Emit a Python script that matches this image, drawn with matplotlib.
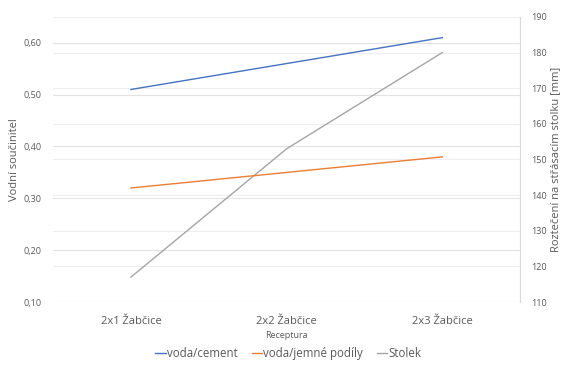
import matplotlib
matplotlib.use("Agg")
import matplotlib.pyplot as plt
from matplotlib.ticker import FuncFormatter

# data
kategorie = ["2x1 Žabčice", "2x2 Žabčice", "2x3 Žabčice"]
voda_cement = [0.51, 0.56, 0.61]
voda_jemne = [0.32, 0.35, 0.38]
stolek = [117, 153, 180]
leve_ticky = [0.1, 0.2, 0.3, 0.4, 0.5, 0.6]
prave_ticky = [110, 120, 130, 140, 150, 160, 170, 180, 190]

plt.rcParams['font.family'] = ['Open Sans', 'DejaVu Sans']

fig = plt.figure(figsize=(5.71, 3.67), dpi=100)
ax2 = fig.add_axes([0.093, 0.177, 0.818, 0.777])
ax = ax2.twinx()
# prave osa vpravo, leva vlevo
ax.yaxis.set_ticks_position("left")
ax.yaxis.set_label_position("left")
ax2.yaxis.set_ticks_position("right")
ax2.yaxis.set_label_position("right")

x = range(len(kategorie))

ax.set_xlim(-0.5, 2.5)
ax.set_ylim(0.10, 0.65)
ax.set_yticks(leve_ticky)
ax.yaxis.set_major_formatter(FuncFormatter(lambda v, p: f"{v:.2f}".replace(".", ",")))
ax2.set_xlim(-0.5, 2.5)
ax2.set_ylim(110, 190)
ax2.set_yticks(prave_ticky)

# mrizka obou os pod carami
for v in prave_ticky:
    ax2.axhline(v, color="#EDEDED", lw=0.8, zorder=0)
for v in leve_ticky:
    ax2.plot([0, 1], [v, v], transform=ax.get_yaxis_transform(), color="#E3E3E3", lw=0.8, zorder=0)

l3, = ax2.plot(x, stolek, color="#A5A5A5", lw=1.0, label="Stolek", zorder=3)
l1, = ax.plot(x, voda_cement, color="#4472C4", lw=1.0, label="voda/cement")
l2, = ax.plot(x, voda_jemne, color="#ED7D31", lw=1.0, label="voda/jemné podíly")

for a in (ax, ax2):
    for s in a.spines.values():
        s.set_visible(False)
    a.tick_params(length=0, colors="#595959", labelsize=6.5)
ax2.spines["right"].set_visible(True)
ax2.spines["right"].set_color("#D9D9D9")
ax2.spines["right"].set_linewidth(0.8)

ax2.set_xticks(list(x))
ax2.set_xticklabels(kategorie, fontsize=8, color="#595959")
ax2.tick_params(axis="x", pad=10)
ax.tick_params(axis="y", pad=8)
ax2.tick_params(axis="y", pad=8)

ax2.set_xlabel("Receptura", fontsize=6.5, color="#595959", labelpad=3)
ax.set_ylabel("Vodní součinitel", fontsize=8, color="#595959", labelpad=3)
ax2.set_ylabel("Roztečení na střásacím stolku [mm]", fontsize=8, color="#595959", labelpad=2)

fig.legend(handles=[l1, l2, l3], loc="center", bbox_to_anchor=(0.505, 0.038), ncol=3,
           frameon=False, fontsize=8.3, handlelength=0.9, handletextpad=0.1,
           columnspacing=1.2, labelcolor="#595959")

fig.savefig("out.png", dpi=100)
